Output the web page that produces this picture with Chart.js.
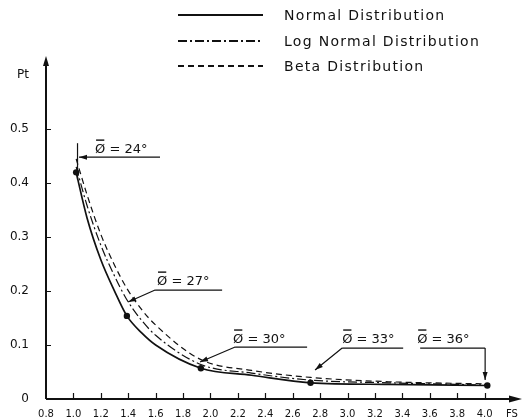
<!DOCTYPE html>
<html>
<head>
<meta charset="utf-8">
<script src="https://cdn.jsdelivr.net/npm/chart.js@4/dist/chart.umd.min.js"></script>
<style>
  html, body { margin: 0; padding: 0; background: #fff; }
  #wrap { width: 525px; height: 420px; }
</style>
</head>
<body>
<div id="wrap"><canvas id="c" width="525" height="420"></canvas></div>
<script>
// Mean factor of safety (FS) at which each curve was read
const fsValues    = [1.02, 1.10, 1.20, 1.30, 1.39, 1.50, 1.60, 1.93, 2.30, 2.73, 3.30, 4.02];
// Probability of failure Pt for each distribution
const normalPt    = [0.420, 0.335, 0.258, 0.200, 0.154, 0.122, 0.100, 0.057, 0.044, 0.030, 0.027, 0.025];
const logNormalPt = [0.430, 0.358, 0.285, 0.228, 0.184, 0.145, 0.118, 0.064, 0.048, 0.035, 0.030, 0.026];
const betaPt      = [0.445, 0.378, 0.305, 0.248, 0.205, 0.165, 0.137, 0.073, 0.053, 0.040, 0.032, 0.028];
// FS values belonging to each mean friction angle
const phiFS       = [1.02, 1.39, 1.93, 2.73, 4.02];
const phiLabels   = ['24°', '27°', '30°', '33°', '36°'];
const seriesNames = ['Normal Distribution', 'Log Normal Distribution', 'Beta Distribution'];
// Axis ticks
const xTicks = [0.8, 1.0, 1.2, 1.4, 1.6, 1.8, 2.0, 2.2, 2.4, 2.6, 2.8, 3.0, 3.2, 3.4, 3.6, 3.8, 4.0, 4.2];
const yTicks = [0, 0.1, 0.2, 0.3, 0.4, 0.5, 0.6];

const FONT = '"DejaVu Sans", "Liberation Sans", sans-serif';
const INK = '#111';

const toPoints = vals => fsValues.map((x, i) => ({ x: x, y: vals[i] }));
const isPhi = x => phiFS.some(f => Math.abs(f - x) < 1e-9);

// Callout placement for each angle label (in axis units)
const callouts = [
  { text: phiLabels[0], at: [1.158, 0.4556], bar: [1.077, 1.632, 0.448], from: 'start', tip: [1.041, 0.448], mark: [1.03, 0.474, 0.406] },
  { text: phiLabels[1], at: [1.610, 0.211],  bar: [1.596, 2.085, 0.2019], from: 'start', tip: [1.399, 0.1796] },
  { text: phiLabels[2], at: [2.165, 0.1037], bar: [2.180, 2.705, 0.0963], from: 'start', tip: [1.924, 0.0685] },
  { text: phiLabels[3], at: [2.961, 0.1037], bar: [2.961, 3.406, 0.0944], from: 'start', tip: [2.763, 0.0537] },
  { text: phiLabels[4], at: [3.508, 0.1037], bar: [3.530, 4.004, 0.0944], from: 'end',   tip: [4.004, 0.035] }
];

function arrowHead(ctx, x0, y0, x1, y1, len, half) {
  const a = Math.atan2(y1 - y0, x1 - x0);
  ctx.beginPath();
  ctx.moveTo(x1, y1);
  ctx.lineTo(x1 - len * Math.cos(a) + half * Math.sin(a), y1 - len * Math.sin(a) - half * Math.cos(a));
  ctx.lineTo(x1 - len * Math.cos(a) - half * Math.sin(a), y1 - len * Math.sin(a) + half * Math.cos(a));
  ctx.closePath();
  ctx.fill();
}

// Axes with arrows, inside tick marks, legend block and angle callouts
const decorations = {
  id: 'decorations',
  afterDraw(chart) {
    const ctx = chart.ctx;
    const xs = chart.scales.x, ys = chart.scales.y;
    const ca = chart.chartArea;
    ctx.save();
    ctx.strokeStyle = INK;
    ctx.fillStyle = INK;

    // axes
    ctx.lineWidth = 2;
    ctx.beginPath();
    ctx.moveTo(ca.left, ca.bottom);
    ctx.lineTo(ca.left, ca.top + 4);
    ctx.moveTo(ca.left, ca.bottom);
    ctx.lineTo(513, ca.bottom);
    ctx.stroke();
    arrowHead(ctx, ca.left, ca.bottom, ca.left, ca.top - 3, 10, 3);
    arrowHead(ctx, ca.left, ca.bottom, 522, ca.bottom, 13, 3.5);

    // inside ticks
    ctx.lineWidth = 1.2;
    ctx.beginPath();
    xTicks.forEach(v => {
      if (v <= xs.min + 1e-9 || v > 4.0 + 1e-9) return;
      const px = Math.round(xs.getPixelForValue(v)) + 0.5;
      ctx.moveTo(px, ca.bottom);
      ctx.lineTo(px, ca.bottom - 6);
    });
    yTicks.forEach(v => {
      if (v <= 0 || v > 0.5 + 1e-9) return;
      const py = Math.round(ys.getPixelForValue(v)) + 0.5;
      ctx.moveTo(ca.left, py);
      ctx.lineTo(ca.left + 5, py);
    });
    ctx.stroke();

    // legend
    ctx.font = '14px ' + FONT;
    ctx.letterSpacing = '1.3px';
    ctx.textBaseline = 'middle';
    ctx.textAlign = 'left';
    const rows = [15, 41, 66];
    chart.data.datasets.forEach((ds, i) => {
      ctx.lineWidth = 2;
      ctx.setLineDash(ds.borderDash || []);
      ctx.beginPath();
      ctx.moveTo(178, rows[i]);
      ctx.lineTo(263, rows[i]);
      ctx.stroke();
      ctx.setLineDash([]);
      ctx.fillText(ds.label, 284, rows[i] + 1);
    });
    ctx.letterSpacing = '0px';

    // angle callouts
    ctx.font = '13px ' + FONT;
    ctx.textBaseline = 'alphabetic';
    callouts.forEach(c => {
      const tx = xs.getPixelForValue(c.at[0]), ty = ys.getPixelForValue(c.at[1]);
      const label = 'Ø = ' + c.text;
      ctx.fillText(label, tx, ty);
      const w = ctx.measureText('Ø').width;
      ctx.lineWidth = 1.4;
      ctx.beginPath();
      ctx.moveTo(tx + 1, ty - 13);
      ctx.lineTo(tx + w - 1, ty - 13);
      ctx.stroke();

      const bx0 = xs.getPixelForValue(c.bar[0]);
      const bx1 = xs.getPixelForValue(c.bar[1]);
      const by = ys.getPixelForValue(c.bar[2]);
      ctx.lineWidth = 1.2;
      ctx.beginPath();
      ctx.moveTo(bx0, by);
      ctx.lineTo(bx1, by);
      const sx = c.from === 'end' ? bx1 : bx0;
      const px = xs.getPixelForValue(c.tip[0]), py = ys.getPixelForValue(c.tip[1]);
      ctx.moveTo(sx, by);
      ctx.lineTo(px, py);
      ctx.stroke();
      arrowHead(ctx, sx, by, px, py, 8, 2.5);

      if (c.mark) {
        const mx = xs.getPixelForValue(c.mark[0]);
        ctx.beginPath();
        ctx.moveTo(mx, ys.getPixelForValue(c.mark[1]));
        ctx.lineTo(mx, ys.getPixelForValue(c.mark[2]));
        ctx.stroke();
      }
    });
    ctx.restore();
  }
};

new Chart(document.getElementById('c'), {
  type: 'line',
  data: {
    datasets: [
      {
        label: seriesNames[0],
        data: toPoints(normalPt),
        borderColor: INK,
        borderWidth: 1.7,
        backgroundColor: INK,
        pointRadius: ctx => (ctx.raw && isPhi(ctx.raw.x)) ? 3.2 : 0,
        pointBackgroundColor: INK,
        pointBorderWidth: 0,
        cubicInterpolationMode: 'monotone',
        fill: false
      },
      {
        label: seriesNames[1],
        data: toPoints(logNormalPt),
        borderColor: INK,
        borderWidth: 1.2,
        borderDash: [9, 3, 2, 3],
        pointRadius: 0,
        cubicInterpolationMode: 'monotone',
        fill: false
      },
      {
        label: seriesNames[2],
        data: toPoints(betaPt),
        borderColor: INK,
        borderWidth: 1.2,
        borderDash: [6, 4],
        pointRadius: 0,
        cubicInterpolationMode: 'monotone',
        fill: false
      }
    ]
  },
  options: {
    responsive: false,
    animation: false,
    devicePixelRatio: 1,
    layout: { padding: { left: 0, right: 13, top: 59, bottom: 0 } },
    plugins: { legend: { display: false }, tooltip: { enabled: false } },
    scales: {
      x: {
        type: 'linear',
        min: 0.8,
        max: 4.2,
        afterBuildTicks: s => { s.ticks = xTicks.map(v => ({ value: v })); },
        afterFit: s => { s.height = 21; },
        grid: { display: false },
        border: { display: false },
        ticks: {
          padding: 1,
          autoSkip: false,
          maxRotation: 0,
          color: INK,
          font: { family: FONT, size: 10 },
          callback: v => (Math.abs(v - 4.2) < 1e-9 ? 'FS' : Number(v).toFixed(1))
        }
      },
      y: {
        type: 'linear',
        min: 0,
        max: 0.63,
        afterBuildTicks: s => { s.ticks = yTicks.map(v => ({ value: v })); },
        afterFit: s => { s.width = 46; },
        grid: { display: false },
        border: { display: false },
        ticks: {
          padding: 9,
          color: INK,
          font: { family: FONT, size: 12 },
          callback: v => (v === 0 ? '0' : Math.abs(v - 0.6) < 1e-9 ? 'Pt' : Number(v).toFixed(1))
        }
      }
    }
  },
  plugins: [decorations]
});
</script>
</body>
</html>
